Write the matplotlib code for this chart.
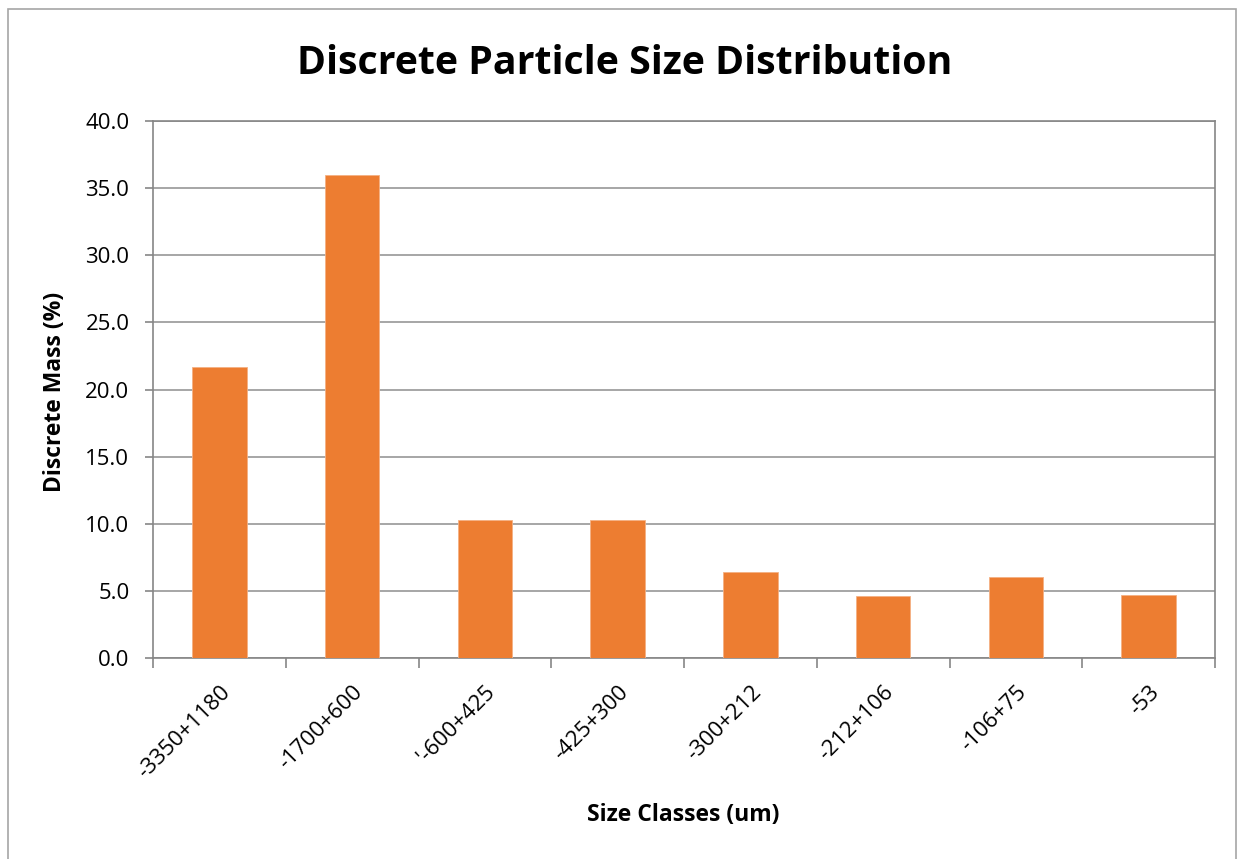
import matplotlib
matplotlib.use("Agg")
import matplotlib.pyplot as plt
from matplotlib.patches import Rectangle
import numpy as np

categories = ["-3350+1180", "-1700+600", "'-600+425", "-425+300", "-300+212", "-212+106", "-106+75", "-53"]
values = [21.7, 35.95, 10.3, 10.25, 6.44, 4.63, 6.07, 4.70]
yticks = [0, 5, 10, 15, 20, 25, 30, 35, 40]

plt.rcParams['font.family'] = ['Open Sans', 'DejaVu Sans']

W, H = 1242, 859
fig = plt.figure(figsize=(W/100, H/100), dpi=100)
fig.patch.set_facecolor('white')

# outer chart border
fig.add_artist(Rectangle((8/W, -0.01), (1236-8)/W, 1 - 9/H + 0.01, transform=fig.transFigure,
                         fill=False, edgecolor='#a6a6a6', linewidth=1.2))

ax = fig.add_axes([153/W, 1-658/H, (1215-153)/W, (658-121)/H])
x = np.arange(len(categories))
ax.bar(x, values, width=0.41, color='#ED7D31', edgecolor='#F4B183', linewidth=0.6, zorder=3)

ax.set_xlim(-0.5, len(categories)-0.5)
ax.set_ylim(0, 40)
ax.set_yticks(yticks)
ax.set_yticklabels([f"{v:.1f}" for v in yticks], fontsize=16)
ax.yaxis.grid(True, color='#a6a6a6', linewidth=1.4, zorder=0)
ax.set_axisbelow(True)

ax.set_xticks(np.arange(len(categories)+1) - 0.5, minor=False)
ax.set_xticklabels([])
ax.set_xticks(x, minor=True)
ax.set_xticklabels(categories, minor=True, rotation=45, ha='right', rotation_mode='anchor', fontsize=16)
for lbl in ax.get_xticklabels(minor=True):
    lbl.set_x(lbl.get_position()[0])
ax.tick_params(axis='x', which='minor', length=0, pad=17)
ax.tick_params(axis='x', which='major', length=7, color='#868686', width=1.2)
ax.tick_params(axis='y', length=6, color='#868686', width=1.2, pad=11)

for s in ['left', 'bottom', 'right', 'top']:
    ax.spines[s].set_color('#868686')
    ax.spines[s].set_linewidth(1.2)

fig.text(55/W, 1-392/H, "Discrete Mass (%)", ha='center', va='center', rotation=90,
         fontsize=16.5, fontweight='bold')
fig.text(683/W, 1-815/H, "Size Classes (um)", ha='center', va='center', fontsize=16.5, fontweight='bold')
fig.text(625/W, 1-64/H, "Discrete Particle Size Distribution", ha='center', va='center', fontsize=28.3, fontweight='bold')

fig.savefig("out.png", dpi=100, facecolor='white')
